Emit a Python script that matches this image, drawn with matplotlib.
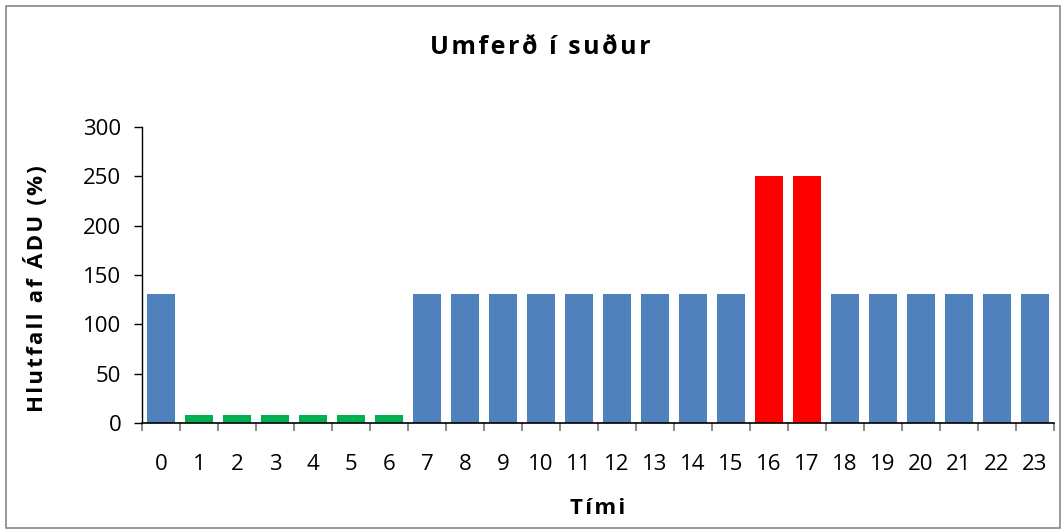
import matplotlib
matplotlib.use("Agg")
import matplotlib.pyplot as plt
from matplotlib.patches import Rectangle
import numpy as np

hours = list(range(24))
values = [131, 8, 8, 8, 8, 8, 8, 131, 131, 131, 131, 131, 131, 131, 131, 131,
          250, 250, 131, 131, 131, 131, 131, 131]
colors = ["#4F81BD"] + ["#00B050"] * 6 + ["#4F81BD"] * 9 + ["#FF0000"] * 2 + ["#4F81BD"] * 6
title = "Umferð í suður"
ylabel = "Hlutfall af ÁDU (%)"
xlabel = "Tími"
yticks = [0, 50, 100, 150, 200, 250, 300]

plt.rcParams['font.family'] = ['Open Sans', 'DejaVu Sans']


def spaced(s):
    # emulate character spacing with hair spaces
    return "\u200a".join(s)


fig = plt.figure(figsize=(10.62, 5.30), dpi=100)
ax = fig.add_axes([0.1337, 0.2013, 0.9925 - 0.1337, 0.761 - 0.2013])

x = np.arange(len(hours))
ax.bar(x, values, width=0.76, color=colors, zorder=2)
ax.set_xlim(-0.5, len(hours) - 0.5)
ax.set_ylim(0, 300)
ax.set_yticks(yticks)
ax.set_yticklabels([str(t) for t in yticks], fontsize=16)
ax.set_xticks(x)
ax.set_xticklabels([str(h) for h in hours], fontsize=16)
ax.tick_params(axis='x', length=0, pad=22)
ax.tick_params(axis='y', length=6, width=1, direction='out', pad=9)
ax.set_xticks(np.arange(-0.5, len(hours)), minor=True)
ax.tick_params(axis='x', which='minor', length=6, width=1.2, color='#777777', direction='out')
for s in ['top', 'right']:
    ax.spines[s].set_visible(False)
ax.spines['left'].set_linewidth(1)
ax.spines['bottom'].set_linewidth(1.2)

fig.text(0.034, 0.455, spaced(ylabel), fontsize=16, fontweight='bold',
         rotation=90, ha='center', va='center')
fig.text(0.563, 0.040, spaced(xlabel), fontsize=16, fontweight='bold',
         ha='center', va='center')
fig.text(0.509, 0.911, spaced(title), fontsize=18, fontweight='bold',
         ha='center', va='center')

fig.patches.append(Rectangle((0.006, 0.004), 0.992, 0.985, transform=fig.transFigure,
                             fill=False, edgecolor='#888888', linewidth=1.2))

fig.savefig("out.png", dpi=100)
